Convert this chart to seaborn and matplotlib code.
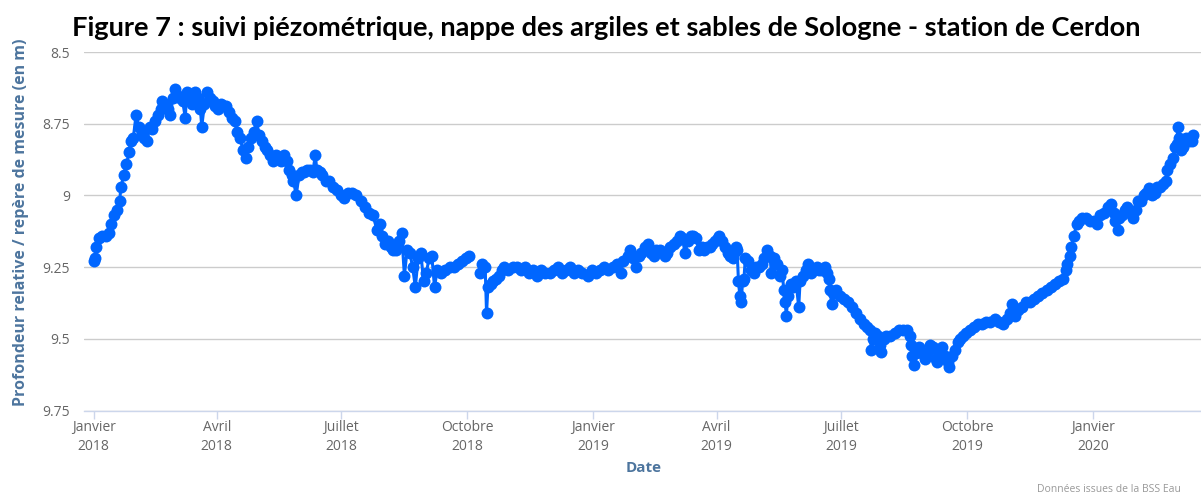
import pandas as pd
import numpy as np
import matplotlib.pyplot as plt
import seaborn as sns

# ── Données ──────────────────────────────────────────────────────────────────
DEBUT = pd.Timestamp("2018-01-01")

# période 1 : janvier -> fin septembre 2018 (jours depuis le 01/01/2018)
jours_1 = [0, 1, 2, 4, 6, 9, 11, 13, 15, 17, 19, 20, 22, 24, 26, 27, 29, 31, 33, 35,
           37, 39, 41, 43, 45, 47, 49, 50, 52, 54, 56, 58, 59.5, 61, 63, 65, 67, 68, 70, 72,
           74, 76, 78, 79, 81, 83, 85, 87, 89, 91, 93, 95, 97, 99, 101, 103, 105, 107, 109, 111,
           113, 115, 117, 119, 121, 123, 125, 127, 129, 131, 133, 135, 137, 139, 141, 143, 145, 146, 148, 150,
           152, 154, 156, 158, 160, 162, 163, 165, 167, 170, 172, 175, 178, 181, 183, 186, 189, 192, 195, 198,
           201, 204, 207, 209, 211, 213, 215, 217, 219, 221, 223, 225, 227, 229, 231, 233, 235, 237, 239, 241,
           243, 245, 247, 249, 251, 254, 257, 260, 263, 266, 269, 272, 274]
prof_1 = [9.23, 9.22, 9.18, 9.15, 9.14, 9.14, 9.13, 9.10, 9.07, 9.05, 9.02, 8.97, 8.93, 8.89, 8.85, 8.81, 8.80, 8.72, 8.76, 8.78,
          8.80, 8.81, 8.76, 8.77, 8.74, 8.72, 8.70, 8.67, 8.68, 8.70, 8.72, 8.66, 8.63, 8.65, 8.66, 8.67, 8.73, 8.64, 8.66, 8.68,
          8.64, 8.66, 8.70, 8.76, 8.68, 8.64, 8.66, 8.67, 8.69, 8.70, 8.68, 8.69, 8.69, 8.71, 8.73, 8.74, 8.78, 8.80, 8.84, 8.87,
          8.83, 8.80, 8.78, 8.74, 8.79, 8.81, 8.83, 8.84, 8.86, 8.88, 8.86, 8.87, 8.88, 8.86, 8.88, 8.91, 8.93, 8.95, 9.00, 8.93,
          8.92, 8.92, 8.91, 8.91, 8.92, 8.86, 8.91, 8.92, 8.93, 8.95, 8.95, 8.97, 8.98, 9.00, 9.01, 8.99, 8.99, 9.00, 9.02, 9.04,
          9.06, 9.07, 9.12, 9.10, 9.14, 9.17, 9.16, 9.18, 9.19, 9.19, 9.16, 9.13, 9.28, 9.19, 9.20, 9.25, 9.32, 9.22, 9.20, 9.30,
          9.27, 9.22, 9.21, 9.32, 9.26, 9.27, 9.26, 9.25, 9.25, 9.24, 9.23, 9.22, 9.21]

# période 2 : mi-octobre 2018 -> mars 2020
jours_2 = [282, 284, 286, 287, 288, 290, 292, 294, 296, 298, 300, 303, 306, 309, 312, 315, 318, 321, 324, 327,
           330, 333, 336, 339, 342, 345, 348, 351, 354, 357, 361, 364, 367, 370, 373, 376, 379, 382, 385, 387,
           390, 392, 394, 396, 398, 400, 403, 405, 407, 409, 411, 414, 417, 419, 421, 424, 426, 428, 430, 432,
           434, 436, 438, 440, 442, 444, 446, 448, 450, 452, 454, 456, 457, 459, 461, 463, 465, 467, 468, 469,
           470, 471, 472, 473, 474, 475, 476, 478, 480, 482, 484, 486, 488, 490, 492, 494, 495, 497, 499, 501,
           503, 504, 505, 506, 507, 509, 511, 513, 515, 516, 518, 520, 522, 524, 526, 528, 530, 532, 534, 536,
           537, 538, 539, 540, 542, 545, 548, 551, 554, 557, 560, 563, 565, 567, 568, 569, 571, 573, 574, 575,
           577, 579, 582, 585, 588, 591, 594, 596, 597, 598, 599, 601, 603, 605, 607, 609, 611, 613, 615, 616,
           618, 620, 622, 624, 625, 627, 629, 631, 633, 635, 637, 640, 643, 646, 649, 652, 655, 658, 661, 664,
           667, 669, 671, 673, 675, 678, 681, 684, 687, 690, 693, 696, 699, 702, 705, 708, 710, 711, 713, 714,
           716, 718, 720, 722, 725, 728, 731, 733, 735, 738, 741, 743, 745, 746, 748, 749, 751, 753, 755, 757,
           759, 761, 763, 765, 767, 769, 771, 773, 775, 777, 779, 781, 783, 784, 786, 788, 790, 791, 792, 793,
           794, 796, 798, 800, 802, 803]
prof_2 = [9.27, 9.24, 9.25, 9.41, 9.32, 9.31, 9.30, 9.29, 9.28, 9.26, 9.25, 9.26, 9.25, 9.25, 9.26, 9.25, 9.27, 9.26, 9.28, 9.26,
          9.27, 9.27, 9.26, 9.25, 9.27, 9.26, 9.25, 9.27, 9.26, 9.27, 9.28, 9.26, 9.27, 9.26, 9.25, 9.26, 9.25, 9.24, 9.27, 9.23,
          9.21, 9.19, 9.22, 9.25, 9.21, 9.20, 9.18, 9.17, 9.20, 9.21, 9.19, 9.19, 9.21, 9.20, 9.18, 9.17, 9.16, 9.14, 9.15, 9.20,
          9.16, 9.14, 9.14, 9.15, 9.19, 9.18, 9.19, 9.18, 9.18, 9.17, 9.16, 9.15, 9.14, 9.16, 9.18, 9.20, 9.21, 9.22, 9.20, 9.18,
          9.19, 9.30, 9.35, 9.37, 9.30, 9.29, 9.22, 9.23, 9.26, 9.27, 9.25, 9.25, 9.24, 9.22, 9.19, 9.21, 9.27, 9.22, 9.24, 9.28,
          9.26, 9.33, 9.37, 9.42, 9.35, 9.31, 9.32, 9.30, 9.39, 9.30, 9.28, 9.26, 9.24, 9.27, 9.26, 9.25, 9.26, 9.26, 9.25, 9.27,
          9.29, 9.33, 9.38, 9.34, 9.33, 9.35, 9.36, 9.37, 9.39, 9.41, 9.43, 9.45, 9.46, 9.47, 9.54, 9.50, 9.48, 9.49, 9.52, 9.545,
          9.50, 9.49, 9.49, 9.48, 9.47, 9.47, 9.47, 9.49, 9.52, 9.56, 9.59, 9.55, 9.53, 9.55, 9.57, 9.55, 9.52, 9.53, 9.57, 9.58,
          9.55, 9.53, 9.56, 9.58, 9.60, 9.56, 9.54, 9.51, 9.50, 9.49, 9.48, 9.47, 9.46, 9.45, 9.45, 9.44, 9.44, 9.43, 9.44, 9.45,
          9.43, 9.41, 9.38, 9.42, 9.40, 9.39, 9.37, 9.37, 9.36, 9.35, 9.34, 9.33, 9.32, 9.31, 9.30, 9.29, 9.26, 9.24, 9.21, 9.18,
          9.14, 9.10, 9.09, 9.08, 9.08, 9.09, 9.09, 9.10, 9.07, 9.06, 9.04, 9.03, 9.06, 9.09, 9.12, 9.08, 9.07, 9.05, 9.04, 9.06,
          9.08, 9.05, 9.02, 9.02, 9.00, 8.99, 8.975, 9.00, 8.99, 8.97, 8.97, 8.96, 8.95, 8.91, 8.89, 8.87, 8.83, 8.82, 8.76, 8.80,
          8.84, 8.83, 8.80, 8.81, 8.81, 8.79]

TICK_DATES  = ["2018-01-01", "2018-04-01", "2018-07-01", "2018-10-01", "2019-01-01",
               "2019-04-01", "2019-07-01", "2019-10-01", "2020-01-01"]
TICK_LABELS = ["Janvier\n2018", "Avril\n2018", "Juillet\n2018", "Octobre\n2018", "Janvier\n2019",
               "Avril\n2019", "Juillet\n2019", "Octobre\n2019", "Janvier\n2020"]
Y_TICKS = [8.5, 8.75, 9, 9.25, 9.5, 9.75]
Y_LABELS = ["8.5", "8.75", "9", "9.25", "9.5", "9.75"]

BLUE  = "#0066ff"
AXCOL = "#4d759e"
GRID  = "#cccccc"

df = pd.concat([
    pd.DataFrame({"jour": jours_1, "prof": prof_1, "segment": 1}),
    pd.DataFrame({"jour": jours_2, "prof": prof_2, "segment": 2}),
])
df["date"] = DEBUT + pd.to_timedelta(df["jour"], unit="D")

# ── Figure ───────────────────────────────────────────────────────────────────
sns.set_theme(style="white")
plt.rcParams["font.family"] = ["Open Sans", "DejaVu Sans"]

W, H = 1201, 495
fig = plt.figure(figsize=(W / 100, H / 100), dpi=100)
ax = fig.add_axes([84 / W, 1 - 410.5 / H, 1120 / W, 358.5 / H])

sns.lineplot(data=df, x="date", y="prof", units="segment", estimator=None,
             color=BLUE, lw=2.2, marker="o", markersize=8.6, markeredgewidth=0,
             legend=False, ax=ax)

ax.set_ylim(9.75, 8.5)
ax.set_xlim(pd.Timestamp("2017-12-25"), pd.Timestamp("2020-03-22"))

ax.set_yticks(Y_TICKS)
ax.set_yticklabels(Y_LABELS)
ax.set_xticks(pd.to_datetime(TICK_DATES))
ax.set_xticklabels(TICK_LABELS, linespacing=1.3)

ax.yaxis.grid(True, color=GRID, lw=1)
ax.xaxis.grid(False)
for s in ["top", "right", "left"]:
    ax.spines[s].set_visible(False)
ax.spines["bottom"].set_color("#ccd6eb")
ax.spines["bottom"].set_linewidth(1)

ax.tick_params(axis="y", length=0, pad=10, labelsize=10, labelcolor="#666666")
ax.tick_params(axis="x", length=6, width=1, color="#ccd6eb", pad=1,
               labelsize=10, labelcolor="#666666", bottom=True)
ax.set_xlabel("")
ax.set_ylabel("")

fig.text(21 / W, 1 - 222 / H, "Profondeur relative / repère de mesure (en m)",
         rotation=90, ha="center", va="center", fontsize=11.5, fontweight="bold", color=AXCOL)
fig.text(644 / W, 1 - 468 / H, "Date", ha="center", va="center",
         fontsize=11, fontweight="bold", color=AXCOL)
fig.text(1037 / W, 1 - 490 / H, "Données issues de la BSS Eau", ha="left", va="center",
         fontsize=7.5, color="#999999")

fig.text(606 / W, 1 - 28 / H,
         "Figure 7 : suivi piézométrique, nappe des argiles et sables de Sologne - station de Cerdon",
         ha="center", va="center", fontsize=19.6, fontweight="bold", color="black",
         family=["Lato", "DejaVu Sans"])

plt.savefig("out.png", dpi=100)
